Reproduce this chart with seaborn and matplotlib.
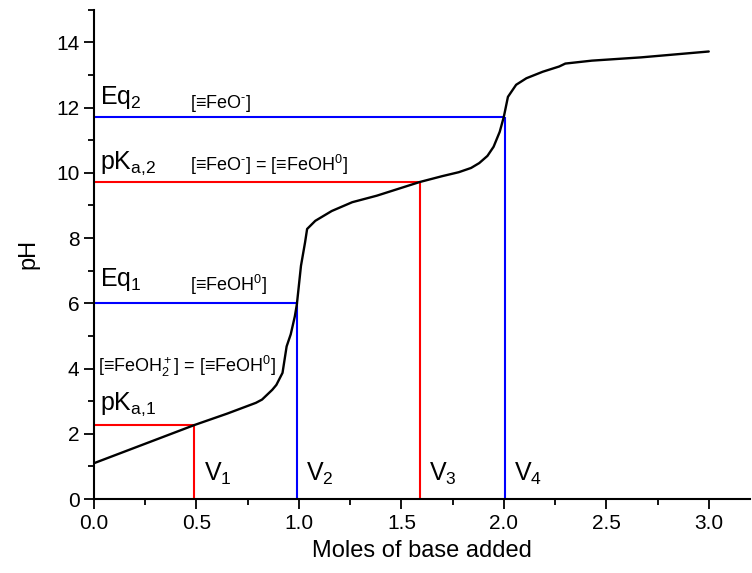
import numpy as np
import pandas as pd
import matplotlib
matplotlib.use("Agg")
import matplotlib.pyplot as plt
import seaborn as sns
from matplotlib.ticker import MultipleLocator

# titration curve
moles = [0.0, 0.49, 0.65, 0.79, 0.82, 0.87, 0.89, 0.92, 0.94, 0.96, 0.98, 0.99,
         1.01, 1.03, 1.04, 1.08, 1.16, 1.26, 1.38, 1.59, 1.70, 1.78, 1.84, 1.88,
         1.92, 1.95, 1.98, 2.0, 2.02, 2.06, 2.11, 2.19, 2.27, 2.30, 2.43, 2.67, 3.0]
ph = [1.1, 2.27, 2.62, 2.95, 3.05, 3.35, 3.5, 3.87, 4.68, 5.05, 5.6, 5.97,
      7.15, 7.87, 8.28, 8.53, 8.83, 9.1, 9.3, 9.72, 9.9, 10.02, 10.15, 10.3,
      10.52, 10.8, 11.26, 11.72, 12.33, 12.7, 12.9, 13.1, 13.26, 13.35, 13.44,
      13.54, 13.72]

# characteristic points V1..V4
point_x = [0.49, 0.99, 1.59, 2.005]
point_ph = [2.27, 6.0, 9.72, 11.72]
point_colors = ["#ff0000", "#0000ff", "#ff0000", "#0000ff"]
point_names = ["V$_1$", "V$_2$", "V$_3$", "V$_4$"]

big_labels = ["pK$_{a{,}1}$", "Eq$_1$", "pK$_{a{,}2}$", "Eq$_2$"]
big_label_ph = [2.74, 6.52, 10.12, 12.12]
species_labels = ["[≡FeOH$_2^+$] = [≡FeOH$^0$]", "[≡FeOH$^0$]",
                  r"[≡FeO$^{\text{-}}$] = [≡FeOH$^0$]", r"[≡FeO$^{\text{-}}$]"]
species_x = [0.02, 0.467, 0.467, 0.467]
species_ph = [3.9, 6.37, 10.06, 12.0]

sns.set_style("ticks")
plt.rcParams['font.family'] = ['Liberation Sans', 'DejaVu Sans']
plt.rcParams['mathtext.fontset'] = 'custom'
plt.rcParams['mathtext.rm'] = 'Liberation Sans'
plt.rcParams['mathtext.it'] = 'Liberation Sans:italic'
plt.rcParams['mathtext.default'] = 'regular'
plt.rcParams['text.color'] = 'black'
plt.rcParams['axes.labelcolor'] = 'black'

fig = plt.figure(figsize=(7.52, 5.73), dpi=100)
ax = fig.add_axes([0.125, 0.129, 0.872, 0.854])

df = pd.DataFrame({"moles": moles, "ph": ph})
sns.lineplot(data=df, x="moles", y="ph", ax=ax, color="black",
             linewidth=1.7, sort=False, zorder=3)

for x, y, c in zip(point_x, point_ph, point_colors):
    ax.hlines(y, 0, x, color=c, linewidth=1.5, zorder=2)
    ax.vlines(x, 0, y, color=c, linewidth=1.5, zorder=2)

for x, name in zip(point_x, point_names):
    ax.text(x + 0.045, 0.55, name, fontsize=18, ha="left", va="baseline")

for y, lab in zip(big_label_ph, big_labels):
    ax.text(0.03, y, lab, fontsize=18, ha="left", va="baseline")

for x, y, lab in zip(species_x, species_ph, species_labels):
    ax.text(x, y, lab, fontsize=13, ha="left", va="baseline")

ax.set_xlim(0, 3.2)
ax.set_ylim(0, 15)
ax.xaxis.set_minor_locator(MultipleLocator(0.25))
ax.yaxis.set_major_locator(MultipleLocator(2))
ax.yaxis.set_minor_locator(MultipleLocator(1))
ax.set_xticks(np.arange(0, 3.01, 0.5))
ax.set_xticklabels([f"{v:.1f}" for v in np.arange(0, 3.01, 0.5)])
ax.tick_params(which="major", direction="out", length=7, width=1.3,
               labelsize=15, color="black", labelcolor="black")
ax.tick_params(which="minor", direction="out", length=4, width=1.3,
               color="black")

ax.set_xlabel("Moles of base added", fontsize=17, labelpad=5)
ax.set_ylabel("pH", fontsize=17, labelpad=12)

sns.despine(ax=ax)
for side in ["left", "bottom"]:
    ax.spines[side].set_linewidth(1.5)
    ax.spines[side].set_color("black")

fig.savefig("out.png", dpi=100, facecolor="white")
